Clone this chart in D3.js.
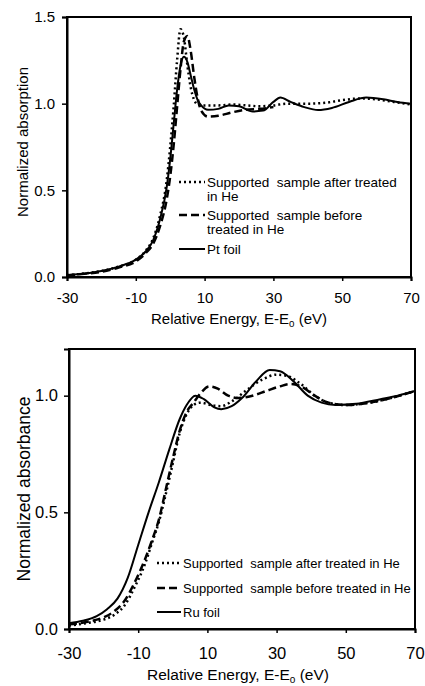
<!DOCTYPE html>
<html>
<head>
<meta charset="utf-8">
<script src="https://cdn.jsdelivr.net/npm/d3@7"></script>
<style>
  body { margin: 0; background: #fff; }
  text { font-family: "Liberation Sans", Arial, sans-serif; fill: #000; white-space: pre; }
</style>
</head>
<body>
<svg id="chart" width="425" height="686"></svg>
<script>
// Pt L3 edge (top panel)
var ptAfterE = [-30, -25, -20, -15, -10, -7, -5, -3, -1, 0, 1, 2, 3, 4, 5, 6, 7, 8, 9, 11, 14, 18, 22, 26, 30, 34, 40, 45, 50, 55, 60, 65, 70];
var ptAfterY = [0.01, 0.02, 0.035, 0.06, 0.1, 0.155, 0.22, 0.35, 0.56, 0.75, 0.98, 1.25, 1.43, 1.38, 1.22, 1.09, 1.02, 0.995, 0.99, 0.99, 0.99, 0.995, 0.99, 0.985, 0.99, 1.0, 1.0, 1.005, 1.02, 1.03, 1.025, 1.01, 0.995];
var ptBeforeE = [-30, -25, -20, -15, -10, -7, -5, -3, -1, 0, 1, 2, 3, 4, 5, 6, 7, 8, 9, 11, 14, 18, 22, 26, 30];
var ptBeforeY = [0.01, 0.018, 0.03, 0.055, 0.09, 0.14, 0.19, 0.29, 0.45, 0.58, 0.76, 0.98, 1.2, 1.36, 1.39, 1.3, 1.15, 1.03, 0.96, 0.925, 0.93, 0.95, 0.965, 0.97, 0.98];
var ptFoilE = [-30, -25, -20, -15, -10, -7, -5, -3, -1, 0, 1, 2, 3, 4, 5, 6, 7, 8, 9, 11, 14, 17, 20, 24, 27, 30, 32, 35, 39, 43, 47, 52, 57, 62, 66, 70];
var ptFoilY = [0.01, 0.02, 0.035, 0.06, 0.1, 0.15, 0.21, 0.33, 0.52, 0.68, 0.88, 1.08, 1.22, 1.27, 1.24, 1.16, 1.08, 1.02, 0.99, 0.965, 0.97, 0.99, 0.985, 0.955, 0.96, 1.01, 1.035, 1.01, 0.98, 0.963, 0.975, 1.01, 1.035, 1.025, 1.01, 1.0];

// Ru K edge (bottom panel)
var ruAfterE = [-30, -25, -20, -17, -14, -11, -8, -6, -4, -2, 0, 2, 4, 6, 8, 11, 14, 17, 21, 26, 30, 33, 37, 41, 45, 50, 57, 63, 70];
var ruAfterY = [0.015, 0.025, 0.04, 0.06, 0.1, 0.18, 0.28, 0.37, 0.46, 0.58, 0.71, 0.84, 0.92, 0.96, 0.97, 0.96, 0.955, 0.975, 1.02, 1.07, 1.09, 1.085, 1.05, 1.0, 0.97, 0.96, 0.97, 0.99, 1.02];
var ruBeforeE = [-30, -25, -20, -17, -14, -11, -8, -6, -4, -2, 0, 2, 4, 6, 8, 10.5, 13, 16, 19, 23, 27, 31, 34, 37, 41, 45, 50, 57, 63, 70];
var ruBeforeY = [0.02, 0.03, 0.05, 0.075, 0.12, 0.2, 0.3, 0.38, 0.47, 0.6, 0.73, 0.85, 0.93, 0.97, 1.01, 1.04, 1.03, 1.0, 0.99, 1.0, 1.02, 1.04, 1.05, 1.04, 1.0, 0.97, 0.96, 0.97, 0.99, 1.02];
var ruFoilE = [-30, -26, -22, -19, -16, -13, -10, -7, -4, -1, 2, 4, 6.5, 9, 12, 14, 17, 20, 24, 28, 31, 35, 39, 43, 47, 53, 60, 65, 70];
var ruFoilY = [0.025, 0.035, 0.055, 0.085, 0.13, 0.22, 0.36, 0.5, 0.63, 0.77, 0.9, 0.96, 1.0, 0.985, 0.95, 0.942, 0.955, 0.99, 1.06, 1.11, 1.105, 1.06, 1.0, 0.97, 0.96, 0.965, 0.985, 1.0, 1.02];

var xTicks = [-30, -10, 10, 30, 50, 70];
var yTicks = [0, 0.5, 1.0, 1.5];

var styles = {
  after: { dash: "2,3", width: 2.5 },
  before: { dash: "8,4", width: 2.5 },
  foil: { dash: null, width: 2 }
};

var svg = d3.select("#chart");

function zip(xs, ys) {
  return xs.map((x, i) => [x, ys[i]]);
}

function panel(cfg) {
  var x = d3.scaleLinear().domain([-30, 70]).range([cfg.left, cfg.right]);
  var y = d3.scaleLinear().domain([0, cfg.ymax]).range([cfg.bottom, cfg.top]);
  var g = svg.append("g");

  // frame
  g.append("rect")
    .attr("x", cfg.left).attr("y", cfg.top)
    .attr("width", cfg.right - cfg.left).attr("height", cfg.bottom - cfg.top)
    .attr("fill", "none").attr("stroke", "black").attr("stroke-width", 2);

  var xAxis = g.append("g")
    .attr("transform", `translate(0,${cfg.bottom})`)
    .call(d3.axisBottom(x).tickValues(xTicks).tickSize(4).tickPadding(cfg.xPad).tickFormat(d3.format("d")));
  var yAxis = g.append("g")
    .attr("transform", `translate(${cfg.left},0)`)
    .call(d3.axisLeft(y).tickValues(yTicks.filter(v => v <= cfg.ymax)).tickSize(5).tickPadding(cfg.yPad).tickFormat(d3.format(".1f")));
  [xAxis, yAxis].forEach(a => {
    a.select(".domain").attr("stroke-width", 2);
    a.selectAll(".tick line").attr("stroke-width", 1.5);
    a.selectAll(".tick text").attr("font-size", cfg.tickFont).attr("font-family", "Liberation Sans, Arial, sans-serif").attr("fill", "black");
  });
  xAxis.selectAll(".tick text").text(d => d < 0 ? "-" + Math.abs(d) : d);

  var line = d3.line()
    .curve(d3.curveMonotoneX)
    .x(d => x(d[0]))
    .y(d => y(d[1]));

  cfg.series.forEach(s => {
    var st = styles[s.kind];
    g.append("path")
      .attr("d", line(zip(s.e, s.v)))
      .attr("fill", "none")
      .attr("stroke", "black")
      .attr("stroke-width", st.width)
      .attr("stroke-dasharray", st.dash);
  });

  // axis titles
  var xt = g.append("text")
    .attr("x", (cfg.left + cfg.right) / 2 + cfg.xTitleShift)
    .attr("y", cfg.xTitleY)
    .attr("text-anchor", "middle")
    .attr("font-size", cfg.titleFont);
  xt.append("tspan").text("Relative Energy, E-E");
  xt.append("tspan").text(cfg.sub).attr("font-size", cfg.titleFont * 0.65).attr("dy", 3);
  xt.append("tspan").text(" (eV)").attr("dy", -3);

  g.append("text")
    .attr("transform", `translate(${cfg.yTitleX},${cfg.yTitleY}) rotate(-90)`)
    .attr("text-anchor", "middle")
    .attr("font-size", cfg.yTitleFont)
    .text(cfg.yTitle);

  // legend
  cfg.legend.forEach(item => {
    var st = styles[item.kind];
    g.append("line")
      .attr("x1", cfg.legX1).attr("x2", cfg.legX2)
      .attr("y1", item.y).attr("y2", item.y)
      .attr("stroke", "black")
      .attr("stroke-width", st.width)
      .attr("stroke-dasharray", st.dash);
    var t = g.append("text")
      .attr("x", cfg.legX2 + 2)
      .attr("y", item.y + 5)
      .attr("font-size", cfg.legFont);
    item.lines.forEach((l, i) => {
      t.append("tspan").attr("x", cfg.legX2 + 2).attr("dy", i ? 14 : 0).text(l);
    });
  });
}

panel({
  left: 67, right: 411, top: 17, bottom: 277, ymax: 1.5,
  tickFont: 15, xPad: 11, yPad: 7, titleFont: 15, xTitleY: 324, xTitleShift: 0, sub: "0",
  yTitle: "Normalized absorption", yTitleX: 28, yTitleY: 142, yTitleFont: 15,
  series: [
    { kind: "after", e: ptAfterE, v: ptAfterY },
    { kind: "before", e: ptBeforeE, v: ptBeforeY },
    { kind: "foil", e: ptFoilE, v: ptFoilY }
  ],
  legX1: 179, legX2: 205, legFont: 13.5,
  legend: [
    { kind: "after", y: 182, lines: ["Supported  sample after treated", "in He"] },
    { kind: "before", y: 215, lines: ["Supported  sample before", "treated in He"] },
    { kind: "foil", y: 249, lines: ["Pt foil"] }
  ]
});

panel({
  left: 69, right: 415, top: 349, bottom: 629, ymax: 1.2,
  tickFont: 16.5, xPad: 14, yPad: 6, titleFont: 15.5, xTitleY: 680, xTitleShift: -4, sub: "o",
  yTitle: "Normalized absorbance", yTitleX: 30, yTitleY: 489, yTitleFont: 17.5,
  series: [
    { kind: "after", e: ruAfterE, v: ruAfterY },
    { kind: "before", e: ruBeforeE, v: ruBeforeY },
    { kind: "foil", e: ruFoilE, v: ruFoilY }
  ],
  legX1: 157, legX2: 181, legFont: 13,
  legend: [
    { kind: "after", y: 563, lines: ["Supported  sample after treated in He"] },
    { kind: "before", y: 588, lines: ["Supported  sample before treated in He"] },
    { kind: "foil", y: 612, lines: ["Ru foil"] }
  ]
});
</script>
</body>
</html>
